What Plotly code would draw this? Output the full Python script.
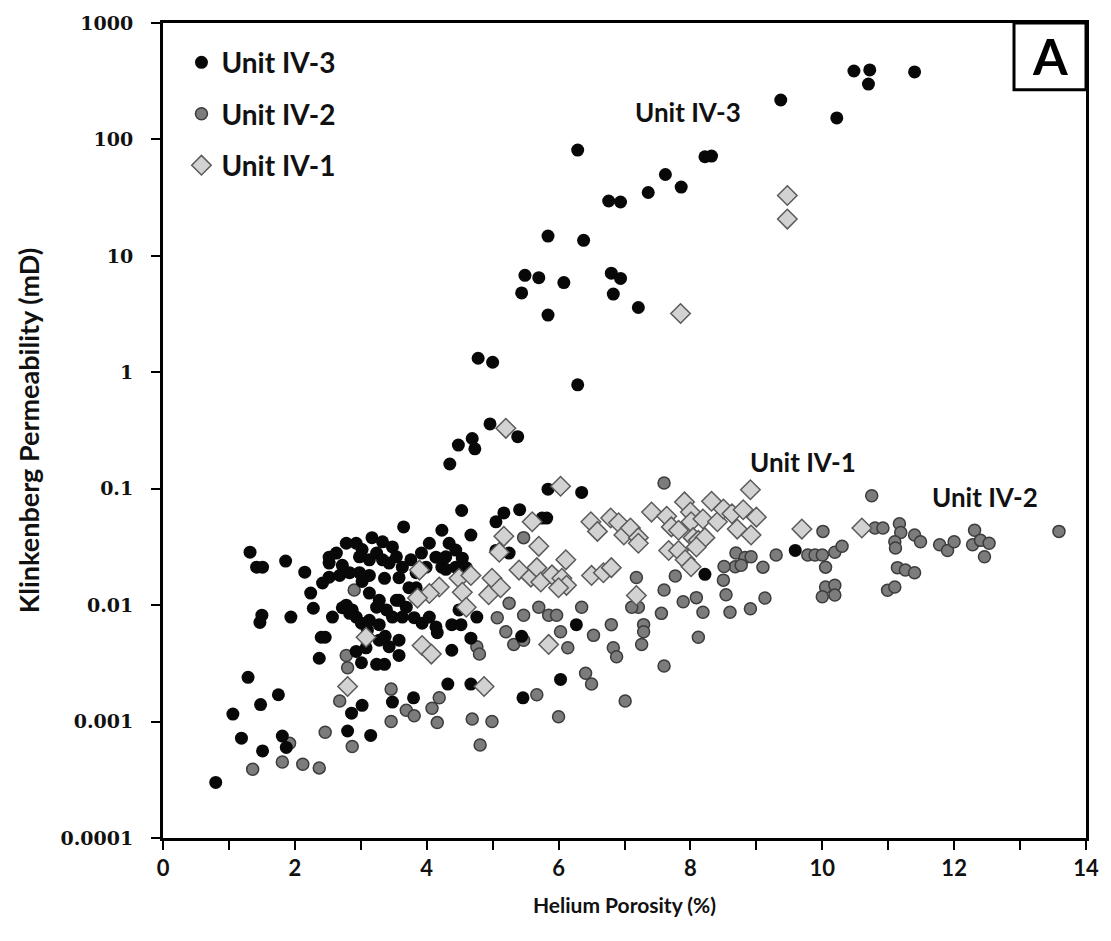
import plotly.graph_objects as go
import math

# ---------------- data ----------------
# Unit IV-3 (black circles)
iv3_por = [10.48, 10.72, 10.70, 11.40, 9.37, 10.22,
           8.22, 8.32, 7.62, 7.86, 7.36, 6.76, 6.94, 6.29,
           5.84, 6.38, 5.49, 5.70, 5.44, 6.08, 5.84,
           6.80, 6.94, 6.83, 7.21,
           4.78, 5.00, 6.29,
           4.96, 5.38, 4.48, 4.69, 4.73, 4.35,
           5.84, 6.35,
           4.53, 5.05, 5.17, 5.41, 5.75, 5.82, 3.65, 4.23, 4.67,
           1.32, 1.42, 1.51, 1.86, 2.15, 2.24, 2.28, 2.57, 1.50, 1.47, 1.94, 2.40, 2.46, 2.37, 1.29, 1.75,
           3.01, 3.24, 3.36, 3.08, 3.37, 2.72, 2.83,
           0.80, 1.06, 1.19, 1.48, 1.51, 1.81, 1.87, 2.80, 2.86, 3.02, 3.15, 3.48, 3.80, 4.32, 4.67,
           5.46, 6.03, 4.38,
           2.52, 2.63, 2.78, 2.93, 3.17, 3.33, 3.48, 2.52, 2.68, 2.83, 2.52, 2.72, 2.98, 3.13, 3.24,
           2.98, 3.13, 3.02, 3.33, 3.43, 3.54, 3.36, 3.63, 3.76, 3.92, 4.04, 4.14, 4.23, 3.84, 2.42,
           2.78, 2.87, 2.93, 3.01, 3.13, 3.28, 3.24, 3.39, 3.48, 3.54, 3.69, 3.81, 3.93, 4.04, 4.14, 3.10,
           4.34, 4.44, 4.54, 4.29, 3.99, 4.29, 4.44, 4.60, 5.05, 5.25, 3.58, 3.73, 3.84, 3.58, 3.63,
           4.16, 4.38, 4.52, 4.49, 4.67, 4.76, 6.27, 5.44, 3.02, 3.13, 3.28, 3.28, 3.58, 3.43, 3.58, 2.93,
           8.22, 9.59]
iv3_perm = [387, 395, 299, 380, 218, 153,
            71, 72, 50, 39, 35, 29.6, 29, 81,
            14.8, 13.6, 6.8, 6.5, 4.8, 5.9, 3.1,
            7.1, 6.4, 4.7, 3.6,
            1.32, 1.22, 0.78,
            0.36, 0.28, 0.237, 0.27, 0.22, 0.163,
            0.099, 0.093,
            0.065, 0.052, 0.062, 0.066, 0.056, 0.056, 0.047, 0.044, 0.040,
            0.0285, 0.0212, 0.0212, 0.0239, 0.0192, 0.0127, 0.0094, 0.0079, 0.0082, 0.0071, 0.0079, 0.0053, 0.0053, 0.0035, 0.0024, 0.0017,
            0.0032, 0.0031, 0.0031, 0.0043, 0.0054, 0.0095, 0.0085,
            0.00030, 0.00116, 0.00072, 0.0014, 0.00056, 0.00075, 0.00060, 0.00083, 0.00118, 0.00138, 0.00076, 0.00147, 0.0016, 0.0021, 0.0021,
            0.0016, 0.0023, 0.0041,
            0.0258, 0.028, 0.034, 0.034, 0.038, 0.035, 0.0316, 0.0174, 0.018, 0.019, 0.023, 0.022, 0.026, 0.0245, 0.028,
            0.019, 0.018, 0.016, 0.0245, 0.023, 0.026, 0.017, 0.0212, 0.0245, 0.028, 0.034, 0.0258, 0.0212, 0.019, 0.0155,
            0.010, 0.0091, 0.0079, 0.0070, 0.0074, 0.0068, 0.0096, 0.0091, 0.0079, 0.011, 0.0096, 0.0078, 0.0070, 0.0079, 0.0065, 0.0061,
            0.034, 0.0297, 0.0253, 0.026, 0.0212, 0.0203, 0.0212, 0.021, 0.0295, 0.028, 0.0172, 0.0141, 0.0141, 0.011, 0.0079,
            0.0058, 0.0068, 0.0068, 0.0091, 0.0052, 0.0079, 0.0068, 0.0054, 0.030, 0.0127, 0.011, 0.005, 0.005, 0.0044, 0.0037, 0.0040,
            0.0184, 0.0295]

# Unit IV-2 (grey circles)
iv2_por = [2.68, 3.46, 3.46, 3.69, 3.81, 4.08, 4.19, 4.16, 4.69, 4.99, 4.81, 2.46, 2.87, 1.92, 1.81, 2.12, 2.37, 1.36,
           2.78, 2.80, 5.67, 6.00, 6.14, 6.41, 6.50, 6.83, 6.88, 7.01, 7.26, 7.60,
           4.76, 4.80, 5.07, 5.20, 5.32, 5.47, 5.25, 5.47, 5.70, 5.85, 5.97, 6.03, 6.35, 6.53, 5.47, 2.90,
           7.60, 10.75, 10.01, 9.30, 9.78, 9.89, 10.00, 10.19, 10.30, 8.69, 8.83, 8.92, 8.68, 8.77, 8.51, 9.10,
           7.77, 8.50, 10.05, 10.05, 10.19, 10.00, 10.19, 7.18, 7.60, 8.54, 9.13, 8.09, 7.89, 7.21, 7.11,
           7.56, 8.19, 8.60, 8.91, 6.80, 7.29, 7.29, 8.12,
           10.80, 10.92, 11.17, 11.19, 11.10, 11.11, 11.40, 11.49, 11.78, 11.90, 12.00, 12.31, 12.28, 12.40,
           12.53, 12.46, 13.59, 11.14, 11.26, 11.40, 10.99, 11.10]
iv2_perm = [0.0015, 0.0019, 0.0010, 0.00125, 0.00112, 0.0013, 0.0016, 0.00098, 0.00105, 0.0010, 0.00063, 0.00081, 0.00061, 0.00065, 0.00045, 0.00043, 0.00040, 0.00039,
            0.0037, 0.0029, 0.0017, 0.0011, 0.0043, 0.0026, 0.0021, 0.0043, 0.0036, 0.0015, 0.0046, 0.0030,
            0.0044, 0.0038, 0.0078, 0.0059, 0.0046, 0.0050, 0.0104, 0.0082, 0.0096, 0.0082, 0.0082, 0.0059, 0.0096, 0.0055, 0.038, 0.0135,
            0.112, 0.087, 0.043, 0.027, 0.027, 0.027, 0.027, 0.0285, 0.032, 0.028, 0.0257, 0.026, 0.0214, 0.022, 0.0215, 0.0212,
            0.0178, 0.0164, 0.0212, 0.0143, 0.0148, 0.0118, 0.0122, 0.0173, 0.0135, 0.0123, 0.0115, 0.0116, 0.0107, 0.0096, 0.0096,
            0.0085, 0.0087, 0.0087, 0.0093, 0.0068, 0.0068, 0.0059, 0.0053,
            0.046, 0.046, 0.050, 0.042, 0.035, 0.031, 0.040, 0.035, 0.033, 0.0295, 0.035, 0.044, 0.033, 0.036,
            0.034, 0.026, 0.043, 0.021, 0.020, 0.019, 0.0134, 0.0143]

# Unit IV-1 (light grey diamonds)
iv1_por = [9.47, 9.47, 7.85, 5.20, 6.03, 8.91,
           5.60, 5.17, 5.70, 5.10, 3.89, 4.19, 4.04, 3.86, 4.49, 4.67, 4.99, 4.94, 5.12, 4.54, 4.60,
           5.40, 5.58, 5.67, 5.73, 5.90, 6.05, 6.11, 6.12, 6.00, 6.50, 6.68, 6.80,
           6.49, 6.59, 6.79, 6.91, 6.99, 7.09, 7.21, 7.21, 7.41, 7.64, 7.71, 7.82, 7.91, 8.00, 8.01, 8.04,
           8.12, 8.19, 8.22, 8.32, 8.41, 8.50, 8.63, 8.71, 8.80, 8.92, 9.00,
           7.67, 7.82, 7.92, 8.01, 8.09, 9.69, 10.60, 7.18,
           3.93, 4.07, 5.85, 2.80, 4.87, 3.08]
iv1_perm = [33, 20.7, 3.2, 0.33, 0.105, 0.098,
            0.052, 0.039, 0.032, 0.0285, 0.020, 0.0143, 0.0126, 0.0115, 0.017, 0.018, 0.017, 0.0123, 0.0141, 0.0129, 0.0096,
            0.020, 0.0174, 0.021, 0.0158, 0.0182, 0.017, 0.0245, 0.0148, 0.0141, 0.018, 0.019, 0.021,
            0.052, 0.043, 0.056, 0.051, 0.040, 0.046, 0.038, 0.034, 0.063, 0.058, 0.047, 0.044, 0.077, 0.063, 0.052, 0.038,
            0.036, 0.055, 0.038, 0.078, 0.052, 0.067, 0.061, 0.045, 0.066, 0.040, 0.057,
            0.0295, 0.0295, 0.0245, 0.0214, 0.0316, 0.045, 0.046, 0.0121,
            0.0045, 0.0038, 0.0046, 0.0020, 0.0020, 0.0053]

x_ticks = list(range(0, 15))
x_tick_text = [str(v) if v % 2 == 0 else "" for v in x_ticks]
y_ticks = [1e-4, 1e-3, 1e-2, 1e-1, 1, 10, 100, 1000]
y_tick_text = ["0.0001", "0.001", "0.01", "0.1", "1", "10", "100", "1000"]

unit_labels = [("Unit IV-3", 7.97, 172), ("Unit IV-1", 9.71, 0.17), ("Unit IV-2", 12.47, 0.085)]

# ---------------- figure ----------------
LABEL_FONT = "Lato"
fig = go.Figure()

fig.add_trace(go.Scatter(
    x=iv2_por, y=iv2_perm, mode="markers", name="Unit IV-2",
    legendrank=2, legendgroup="g2",
    marker=dict(symbol="circle", size=12, color="#7c7c7c",
                line=dict(color="#3c3c3c", width=1.5))))
fig.add_trace(go.Scatter(
    x=iv3_por, y=iv3_perm, mode="markers", name="Unit IV-3",
    legendrank=1, legendgroup="g1",
    marker=dict(symbol="circle", size=13, color="#080808",
                line=dict(color="#000000", width=0))))
fig.add_trace(go.Scatter(
    x=iv1_por, y=iv1_perm, mode="markers", name="Unit IV-1",
    legendrank=3, legendgroup="g3",
    marker=dict(symbol="diamond", size=15, color="#d2d2d2",
                line=dict(color="#5a5a5a", width=1.5))))

for text, xv, yv in unit_labels:
    fig.add_annotation(x=xv, y=math.log10(yv), text=text, showarrow=False,
                       xref="x", yref="y",
                       font=dict(family=LABEL_FONT, size=26, color="#111", weight="bold"))

# "A" panel box
fig.add_shape(type="rect", xref="paper", yref="paper",
              x0=0.922, x1=1.0, y0=0.918, y1=1.0,
              line=dict(color="black", width=3), fillcolor="white", layer="above")
fig.add_annotation(x=0.961, y=0.959, xref="paper", yref="paper", text="A",
                   showarrow=False, xanchor="center", yanchor="middle",
                   font=dict(family=LABEL_FONT, size=50, color="black", weight="bold"))

fig.update_xaxes(range=[0, 14], tickvals=x_ticks, ticktext=x_tick_text,
                 ticks="outside", ticklen=9, tickwidth=2, tickcolor="black",
                 showline=True, linewidth=3, linecolor="black", mirror=True,
                 showgrid=False, zeroline=False,
                 tickfont=dict(family=LABEL_FONT, size=22, color="#111", weight="bold"),
                 title=dict(text="Helium Porosity (%)", standoff=18,
                            font=dict(family=LABEL_FONT, size=21, color="#111", weight="bold")))
fig.update_yaxes(type="log", range=[-4, 3], tickvals=y_ticks, ticktext=y_tick_text,
                 ticks="outside", ticklen=9, tickwidth=2, tickcolor="black",
                 ticklabelstandoff=14,
                 showline=True, linewidth=3, linecolor="black", mirror=True,
                 showgrid=False, zeroline=False,
                 tickfont=dict(family="DejaVu Serif", size=19, color="#111", weight="bold"),
                 title=dict(text="Klinkenberg Permeability (mD)", standoff=14,
                            font=dict(family=LABEL_FONT, size=27, color="#111", weight="bold")))

fig.update_layout(
    width=1111, height=941,
    margin=dict(l=163, r=22, t=23, b=103),
    paper_bgcolor="white", plot_bgcolor="white",
    showlegend=True,
    legend=dict(x=0.02, y=0.982, xanchor="left", yanchor="top",
                bgcolor="rgba(255,255,255,0)", borderwidth=0,
                traceorder="grouped", tracegroupgap=12, itemwidth=30,
                font=dict(family=LABEL_FONT, size=28, color="#111", weight="bold")),
)

fig.write_html("out.html")
